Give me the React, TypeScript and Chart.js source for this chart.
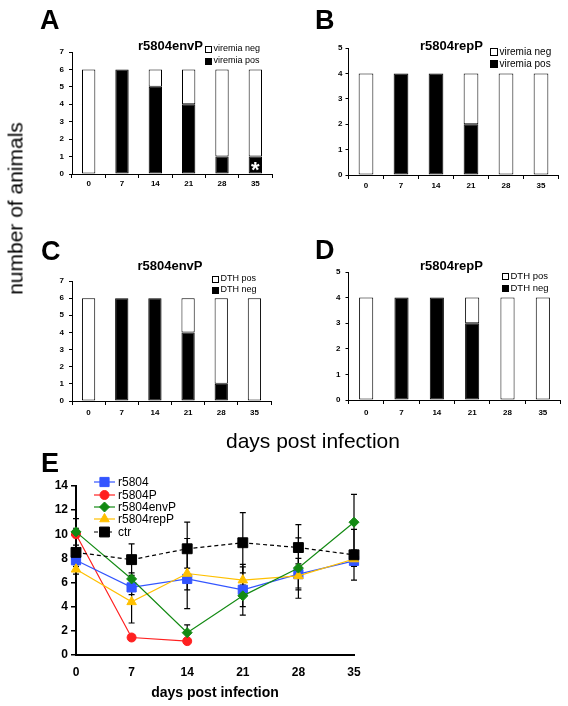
import React, { useEffect, useRef } from 'react';
import { Chart, registerables } from 'chart.js';

Chart.register(...registerables);

const FONT = "'Liberation Sans', Arial, Helvetica, sans-serif";

// ---------- data ----------
const dayLabels = ['0', '7', '14', '21', '28', '35'];
const dayNums = [0, 7, 14, 21, 28, 35];

// A: r5804envP viremia
const envViremiaPos = [0, 6, 5, 4, 1, 1];
const envViremiaNeg = [6, 0, 1, 2, 5, 5];
// B: r5804repP viremia
const repViremiaPos = [0, 4, 4, 2, 0, 0];
const repViremiaNeg = [4, 0, 0, 2, 4, 4];
// C: r5804envP DTH
const envDthNeg = [0, 6, 6, 4, 1, 0];
const envDthPos = [6, 0, 0, 2, 5, 6];
// D: r5804repP DTH
const repDthNeg = [0, 4, 4, 3, 0, 0];
const repDthPos = [4, 0, 0, 1, 4, 4];

// E: line series (mean) and error (SD)
const r5804 = [7.85, 5.6, 6.3, 5.4, 6.7, 7.8];
const r5804Err = [0.5, 0.6, 0.9, 2.1, 1.3, 0.4];
const r5804P = [10.0, 1.45, 1.15, null, null, null];
const r5804PErr = [1.3, 0.25, 0.1, null, null, null];
const r5804envP = [10.2, 6.3, 1.85, 4.9, 7.2, 11.0];
const r5804envPErr = [0.3, 0.5, 0.65, 0.9, 2.5, 2.3];
const r5804repP = [7.1, 4.4, 6.75, 6.2, 6.55, 7.95];
const r5804repPErr = [0.4, 1.75, 2.9, 1.1, 1.0, 0.6];
const ctr = [8.5, 7.9, 8.8, 9.3, 8.9, 8.3];
const ctrErr = [0.6, 1.3, 2.2, 2.5, 1.9, 2.1];

const eTicksY = { min: 0, max: 14, step: 2 };
const eTicksX = { min: 0, max: 35, step: 7 };

// ---------- bar panels ----------
type BarSpec = {
  title: string;
  bottomLabel: string;
  topLabel: string;
  bottom: number[];
  top: number[];
  yMax: number;
  padTop: number;
  padRight: number;
  yWidth: number;
  xHeight: number;
  xPad: number;
  yPad: number;
  barPct: number;
  titleX: number;
  titleY: number;
  legendX: number;
  legendRows: number[];
  legendFont: number;
  box: number;
  asteriskIndex?: number;
};

function barDecor(s: BarSpec) {
  return {
    id: 'barDecor',
    afterDraw(chart: any) {
      const ctx = chart.ctx as CanvasRenderingContext2D;
      ctx.save();
      ctx.fillStyle = '#000';
      ctx.font = `bold 13px ${FONT}`;
      ctx.textAlign = 'center';
      ctx.textBaseline = 'alphabetic';
      ctx.fillText(s.title, s.titleX, s.titleY);

      ctx.font = `${s.legendFont}px ${FONT}`;
      ctx.textAlign = 'left';
      ctx.textBaseline = 'middle';
      const items = [
        { label: s.topLabel, fill: '#fff' },
        { label: s.bottomLabel, fill: '#000' },
      ];
      items.forEach((it, i) => {
        const y = s.legendRows[i];
        const bx = s.legendX;
        const by = Math.round(y - s.box / 2);
        ctx.fillStyle = it.fill;
        ctx.fillRect(bx, by, s.box, s.box);
        ctx.strokeStyle = '#000';
        ctx.lineWidth = 1;
        ctx.strokeRect(bx + 0.5, by + 0.5, s.box - 1, s.box - 1);
        ctx.fillStyle = '#000';
        ctx.fillText(it.label, bx + s.box + 1.5, y);
      });

      if (s.asteriskIndex != null) {
        const el: any = chart.getDatasetMeta(0).data[s.asteriskIndex];
        if (el) {
          ctx.font = `bold 22px ${FONT}`;
          ctx.textAlign = 'center';
          ctx.textBaseline = 'alphabetic';
          const m = ctx.measureText('*');
          const off = (m.actualBoundingBoxAscent - m.actualBoundingBoxDescent) / 2;
          const cy = (el.y + el.base) / 2 + 1;
          ctx.fillStyle = '#fff';
          ctx.fillText('*', el.x, cy + off);
        }
      }
      ctx.restore();
    },
  };
}

function barConfig(s: BarSpec): any {
  const tickFont = { family: FONT, size: 8, weight: 'bold' as const };
  return {
    type: 'bar',
    data: {
      labels: dayLabels,
      datasets: [
        {
          label: s.bottomLabel,
          data: s.bottom,
          backgroundColor: '#000',
          borderColor: '#000',
          borderWidth: 1,
          borderSkipped: false,
          categoryPercentage: 1,
          barPercentage: s.barPct,
        },
        {
          label: s.topLabel,
          data: s.top,
          backgroundColor: '#fff',
          borderColor: '#000',
          borderWidth: 1,
          borderSkipped: false,
          categoryPercentage: 1,
          barPercentage: s.barPct,
        },
      ],
    },
    options: {
      animation: false,
      responsive: false,
      events: [],
      layout: { padding: { top: s.padTop, right: s.padRight, left: 0, bottom: 0 } },
      plugins: { legend: { display: false }, tooltip: { enabled: false }, title: { display: false } },
      scales: {
        x: {
          stacked: true,
          grid: { display: true, drawOnChartArea: false, drawTicks: true, tickLength: 4, color: '#000', offset: true },
          border: { display: true, color: '#000', width: 1 },
          ticks: { font: tickFont, color: '#000', padding: s.xPad, maxRotation: 0 },
          afterFit: (sc: any) => {
            sc.height = s.xHeight;
          },
        },
        y: {
          stacked: true,
          min: 0,
          max: s.yMax,
          grid: { display: true, drawOnChartArea: false, drawTicks: true, tickLength: 3, color: '#000' },
          border: { display: true, color: '#000', width: 1 },
          ticks: { stepSize: 1, font: tickFont, color: '#000', padding: s.yPad },
          afterFit: (sc: any) => {
            sc.width = s.yWidth;
          },
        },
      },
    },
    plugins: [barDecor(s)],
  };
}

const specA: BarSpec = {
  title: 'r5804envP', bottomLabel: 'viremia pos', topLabel: 'viremia neg',
  bottom: envViremiaPos, top: envViremiaNeg, yMax: 7,
  padTop: 52, padRight: 12, yWidth: 72, xHeight: 26, xPad: 1, yPad: 5, barPct: 0.4,
  titleX: 170.5, titleY: 50, legendX: 205, legendRows: [49, 61], legendFont: 9, box: 7,
  asteriskIndex: 5,
};
const specB: BarSpec = {
  title: 'r5804repP', bottomLabel: 'viremia pos', topLabel: 'viremia neg',
  bottom: repViremiaPos, top: repViremiaNeg, yMax: 5,
  padTop: 48, padRight: 9.5, yWidth: 64.5, xHeight: 25, xPad: 2, yPad: 3, barPct: 0.42,
  titleX: 167.5, titleY: 50, legendX: 206, legendRows: [52, 64], legendFont: 10, box: 8,
};
const specC: BarSpec = {
  title: 'r5804envP', bottomLabel: 'DTH neg', topLabel: 'DTH pos',
  bottom: envDthNeg, top: envDthPos, yMax: 7,
  padTop: 61, padRight: 13, yWidth: 72, xHeight: 29, xPad: 3, yPad: 5, barPct: 0.4,
  titleX: 170, titleY: 50, legendX: 212, legendRows: [59, 70], legendFont: 9, box: 7,
};
const specD: BarSpec = {
  title: 'r5804repP', bottomLabel: 'DTH neg', topLabel: 'DTH pos',
  bottom: repDthNeg, top: repDthPos, yMax: 5,
  padTop: 52, padRight: 7.5, yWidth: 64.5, xHeight: 30, xPad: 4, yPad: 5, barPct: 0.4,
  titleX: 167.5, titleY: 50, legendX: 218, legendRows: [56, 68], legendFont: 9.5, box: 7,
};

// ---------- line panel E ----------
type SeriesE = {
  label: string;
  vals: (number | null)[];
  errs: (number | null)[];
  color: string;
  style: string;
  radius: number;
  dash: number[];
};

const seriesE: SeriesE[] = [
  { label: 'r5804', vals: r5804, errs: r5804Err, color: '#3355ff', style: 'rect', radius: 6.5, dash: [] },
  { label: 'r5804P', vals: r5804P, errs: r5804PErr, color: '#ff2020', style: 'circle', radius: 4.5, dash: [] },
  { label: 'r5804envP', vals: r5804envP, errs: r5804envPErr, color: '#138a13', style: 'rectRot', radius: 5, dash: [] },
  { label: 'r5804repP', vals: r5804repP, errs: r5804repPErr, color: '#ffc000', style: 'triangle', radius: 5.5, dash: [] },
  { label: 'ctr', vals: ctr, errs: ctrErr, color: '#000000', style: 'rect', radius: 7, dash: [4, 3] },
];

function drawMarker(ctx: CanvasRenderingContext2D, style: string, x: number, y: number, r: number, color: string) {
  ctx.fillStyle = color;
  ctx.strokeStyle = color;
  ctx.beginPath();
  if (style === 'rect') {
    const h = r * Math.SQRT1_2;
    ctx.rect(x - h, y - h, 2 * h, 2 * h);
  } else if (style === 'circle') {
    ctx.arc(x, y, r, 0, Math.PI * 2);
  } else if (style === 'rectRot') {
    ctx.moveTo(x, y - r);
    ctx.lineTo(x + r, y);
    ctx.lineTo(x, y + r);
    ctx.lineTo(x - r, y);
    ctx.closePath();
  } else if (style === 'triangle') {
    let a = 0;
    ctx.moveTo(x + Math.sin(a) * r, y - Math.cos(a) * r);
    a += (2 * Math.PI) / 3;
    ctx.lineTo(x + Math.sin(a) * r, y - Math.cos(a) * r);
    a += (2 * Math.PI) / 3;
    ctx.lineTo(x + Math.sin(a) * r, y - Math.cos(a) * r);
    ctx.closePath();
  }
  ctx.fill();
  ctx.stroke();
}

const errorBarPlugin = {
  id: 'errorBars',
  beforeDatasetsDraw(chart: any) {
    const ctx = chart.ctx as CanvasRenderingContext2D;
    const xs = chart.scales.x;
    const ys = chart.scales.y;
    ctx.save();
    ctx.strokeStyle = '#000';
    ctx.lineWidth = 1.2;
    chart.data.datasets.forEach((ds: any) => {
      ds.data.forEach((p: any) => {
        if (p == null || p.err == null) return;
        const px = xs.getPixelForValue(p.x);
        const t = ys.getPixelForValue(p.y + p.err);
        const b = ys.getPixelForValue(p.y - p.err);
        ctx.beginPath();
        ctx.moveTo(px, t);
        ctx.lineTo(px, b);
        ctx.moveTo(px - 3, t);
        ctx.lineTo(px + 3, t);
        ctx.moveTo(px - 3, b);
        ctx.lineTo(px + 3, b);
        ctx.stroke();
      });
    });
    ctx.restore();
  },
};

const eDecor = {
  id: 'eDecor',
  afterDraw(chart: any) {
    const ctx = chart.ctx as CanvasRenderingContext2D;
    ctx.save();
    const rows = [42, 55, 67, 79, 92];
    seriesE.forEach((s, i) => {
      const y = rows[i];
      ctx.strokeStyle = s.color;
      ctx.lineWidth = 1.2;
      ctx.setLineDash(s.dash);
      ctx.beginPath();
      ctx.moveTo(94, y);
      ctx.lineTo(115, y);
      ctx.stroke();
      ctx.setLineDash([]);
      ctx.lineWidth = 1;
      drawMarker(ctx, s.style, 104.5, y, s.radius, s.color);
      ctx.fillStyle = '#000';
      ctx.font = `12px ${FONT}`;
      ctx.textAlign = 'left';
      ctx.textBaseline = 'middle';
      ctx.fillText(s.label, 118, y + 0.5);
    });
    // x-axis title
    ctx.fillStyle = '#000';
    ctx.font = `bold 14px ${FONT}`;
    ctx.textAlign = 'center';
    ctx.textBaseline = 'alphabetic';
    const xs = chart.scales.x;
    ctx.fillText('days post infection', (xs.left + xs.right) / 2, 257);
    ctx.restore();
  },
};

function lineConfig(): any {
  const order = [4, 2, 3, 0, 1]; // draw order: first listed is on top
  const datasets = order.map((idx) => {
    const s = seriesE[idx];
    const data = dayNums
      .map((d, i) => (s.vals[i] == null ? null : { x: d, y: s.vals[i], err: s.errs[i] }))
      .filter((p) => p != null);
    return {
      label: s.label,
      data,
      borderColor: s.color,
      backgroundColor: s.color,
      borderWidth: 1.2,
      borderDash: s.dash,
      pointStyle: s.style,
      pointRadius: s.radius,
      pointBorderWidth: 1,
      pointBackgroundColor: s.color,
      pointBorderColor: s.color,
      tension: 0,
      clip: false,
      fill: false,
    };
  });
  const tickFont = { family: FONT, size: 12, weight: 'bold' as const };
  return {
    type: 'line',
    data: { datasets },
    options: {
      animation: false,
      responsive: false,
      events: [],
      layout: { padding: { top: 46, right: 214, left: 0, bottom: 0 } },
      plugins: { legend: { display: false }, tooltip: { enabled: false } },
      scales: {
        x: {
          type: 'linear',
          min: eTicksX.min,
          max: eTicksX.max,
          ticks: { stepSize: eTicksX.step, font: tickFont, color: '#000', padding: 10, maxRotation: 0 },
          grid: { display: true, drawOnChartArea: false, drawTicks: false, color: '#000' },
          border: { display: true, color: '#000', width: 2 },
          afterFit: (sc: any) => {
            sc.height = 51;
          },
        },
        y: {
          min: eTicksY.min,
          max: eTicksY.max,
          ticks: { stepSize: eTicksY.step, font: tickFont, color: '#000', padding: 3 },
          grid: { display: true, drawOnChartArea: false, drawTicks: true, tickLength: 5, color: '#000', lineWidth: 1.5 },
          border: { display: true, color: '#000', width: 2 },
          afterFit: (sc: any) => {
            sc.width = 76;
          },
        },
      },
    },
    plugins: [errorBarPlugin, eDecor],
  };
}

// ---------- components ----------
function ChartCanvas(props: { make: () => any; left: number; top: number; width: number; height: number }) {
  const ref = useRef<HTMLCanvasElement>(null);
  useEffect(() => {
    const chart = new Chart(ref.current as HTMLCanvasElement, props.make());
    return () => chart.destroy();
  }, []);
  return (
    <canvas
      ref={ref}
      width={props.width}
      height={props.height}
      style={{ position: 'absolute', left: props.left, top: props.top, width: props.width, height: props.height }}
    />
  );
}

function Letter(props: { ch: string; left: number; top: number }) {
  return (
    <div
      style={{
        position: 'absolute',
        left: props.left,
        top: props.top,
        fontFamily: FONT,
        fontWeight: 'bold',
        fontSize: 27,
        lineHeight: '27px',
        color: '#000',
      }}
    >
      {props.ch}
    </div>
  );
}

export default function App() {
  return (
    <div style={{ position: 'absolute', left: 0, top: 0, width: 568, height: 706, background: '#fff', overflow: 'hidden' }}>
      <ChartCanvas make={() => barConfig(specA)} left={0} top={0} width={284} height={200} />
      <ChartCanvas make={() => barConfig(specB)} left={284} top={0} width={284} height={200} />
      <ChartCanvas make={() => barConfig(specC)} left={0} top={220} width={284} height={210} />
      <ChartCanvas make={() => barConfig(specD)} left={284} top={220} width={284} height={210} />
      <ChartCanvas make={lineConfig} left={0} top={440} width={568} height={266} />

      <Letter ch="A" left={40} top={7} />
      <Letter ch="B" left={315} top={7} />
      <Letter ch="C" left={41} top={238} />
      <Letter ch="D" left={315} top={237} />
      <Letter ch="E" left={41} top={450} />

      <div
        style={{
          position: 'absolute',
          left: 15 - 130,
          top: 208 - 10.5,
          width: 260,
          height: 21,
          lineHeight: '21px',
          fontSize: 21,
          fontFamily: FONT,
          textAlign: 'center',
          whiteSpace: 'nowrap',
          transform: 'rotate(-90deg)',
          color: '#000',
        }}
      >
        number of animals
      </div>
      <div
        style={{
          position: 'absolute',
          left: 226,
          top: 430,
          lineHeight: '21px',
          fontSize: 21,
          fontFamily: FONT,
          whiteSpace: 'nowrap',
          color: '#000',
        }}
      >
        days post infection
      </div>
    </div>
  );
}
